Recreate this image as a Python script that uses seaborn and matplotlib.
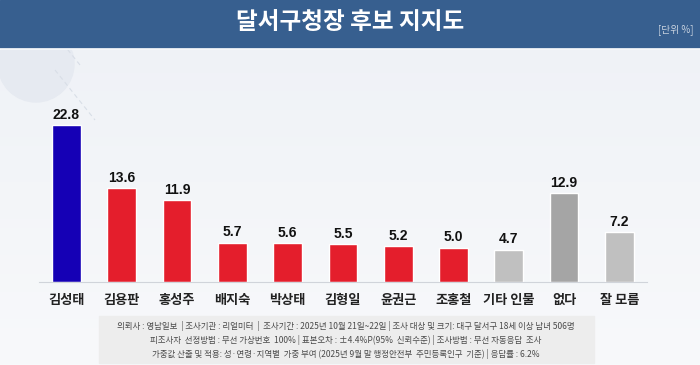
import numpy as np
import pandas as pd
import matplotlib
matplotlib.use("Agg")
import matplotlib.pyplot as plt
from matplotlib.patches import Rectangle, Circle
import seaborn as sns

# 데이터
candidates = ["김성태", "김용판", "홍성주", "배지숙", "박상태", "김형일",
              "윤권근", "조홍철", "기타 인물", "없다", "잘 모름"]
support = [22.8, 13.6, 11.9, 5.7, 5.6, 5.5, 5.2, 5.0, 4.7, 12.9, 7.2]
bar_colors = ["#1500B5"] + ["#E41E2C"] * 7 + ["#C0C0C0", "#A5A5A5", "#C0C0C0"]

title = "달서구청장 후보 지지도"
unit = "[단위 %]"
notes = [
    "의뢰사 : 영남일보  | 조사기관 : 리얼미터  |  조사기간 : 2025년 10월 21일~22일 | 조사 대상 및 크기: 대구 달서구 18세 이상 남녀 506명",
    "피조사자  선정방법 : 무선 가상번호  100% | 표본오차 : ±4.4%P(95%  신뢰수준) | 조사방법 : 무선 자동응답  조사",
    "가중값 산출 및 적용: 성·연령·지역별  가중 부여 (2025년 9월 말 행정안전부  주민등록인구  기준) | 응답률 : 6.2%",
]

sns.set_theme(style="white")
plt.rcParams["font.family"] = ["Noto Sans CJK KR", "DejaVu Sans"]
plt.rcParams["axes.unicode_minus"] = False

W, H = 700, 365
fig = plt.figure(figsize=(7, 3.65), dpi=100)

# 배경 그라데이션
bg = fig.add_axes([0, 0, 1, 1])
grad = np.linspace(0, 1, 256).reshape(-1, 1)
cmap = matplotlib.colors.LinearSegmentedColormap.from_list("bg", ["#EEF1F6", "#F8F9FB"])
bg.imshow(grad, aspect="auto", cmap=cmap, extent=[0, W, H, 0])
bg.set_xlim(0, W); bg.set_ylim(H, 0)
bg.axis("off")
bg.add_patch(Circle((36, 64), 38, color="#E6EAF1", zorder=1))
bg.plot([55, 95], [70, 120], color="#D8DEE7", lw=0.8, ls=(0, (4, 3)), zorder=1)
bg.plot([80, 60], [65, 40], color="#D8DEE7", lw=0.8, ls=(0, (4, 3)), zorder=1)
# 타이틀 띠
bg.add_patch(Rectangle((0, 0), W, 48, color="#375F8F", zorder=2))
bg.plot([0, W], [49, 49], color="#FFFFFF", lw=1.2, zorder=2)
bg.text(W / 2, 22, title, color="white", fontsize=17, fontweight="bold",
        ha="center", va="center", zorder=3)
bg.text(694, 30, unit, color="#C9D3E0", fontsize=7, ha="right", va="center", zorder=3)
# 주석 박스
bg.add_patch(Rectangle((99, 316), 495, 47, color="#EDEDED", zorder=2))
for i, line in enumerate(notes):
    bg.text(346, 326 + i * 14, line, fontsize=6.1, color="#4A4A4A",
            ha="center", va="center", zorder=3)

# 막대 차트
ax = fig.add_axes([38.85 / W, 83 / H, (647 - 38.85) / W, 172.2 / H])
ax.patch.set_alpha(0)
df = pd.DataFrame({"후보": candidates, "지지도": support})
sns.barplot(data=df, x="후보", y="지지도", hue="후보", palette=bar_colors,
            width=0.52, legend=False, saturation=1, ax=ax)
ax.set_xlim(-0.5, len(candidates) - 0.5)
ax.set_ylim(0, 25)
for i, v in enumerate(support):
    ax.text(i, v + 0.5, f"{v:.1f}", ha="center", va="bottom",
            fontsize=10, fontweight="bold", color="#111111", clip_on=False,
            family=["Liberation Sans", "DejaVu Sans"])
ax.set_xlabel(""); ax.set_ylabel("")
ax.set_yticks([])
ax.tick_params(axis="x", length=0, pad=8, labelsize=9.5, labelcolor="#222222")
for t in ax.get_xticklabels():
    t.set_fontweight("bold")
ax.set_xticks(np.arange(-0.5, len(candidates)), minor=True)
ax.tick_params(axis="x", which="minor", length=4, color="#D0D4DA", width=0.8)
for s in ["top", "right", "left"]:
    ax.spines[s].set_visible(False)
ax.spines["bottom"].set_color("#D0D4DA")
ax.spines["bottom"].set_linewidth(0.8)

fig.savefig("out.png", dpi=100)
